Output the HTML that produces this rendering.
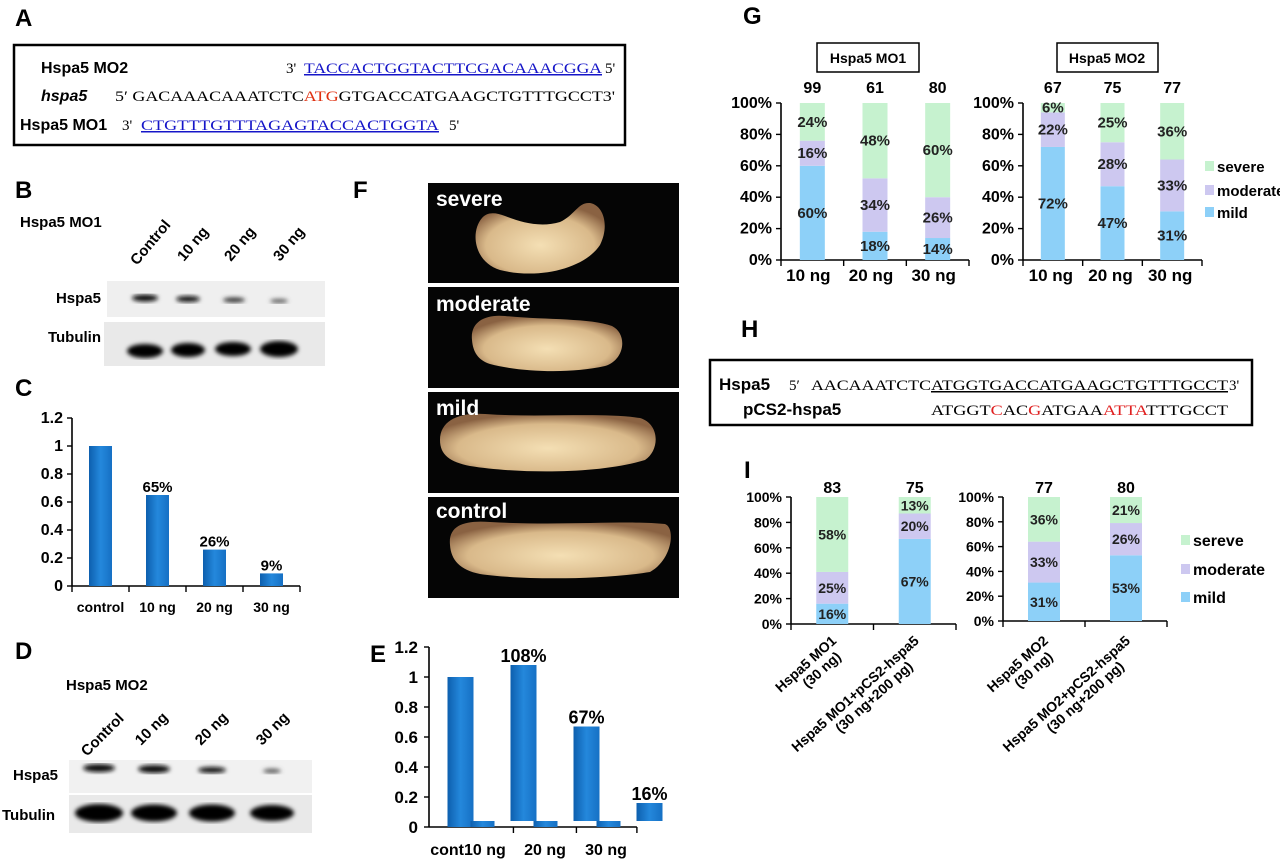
<!DOCTYPE html>
<html><head><meta charset="utf-8">
<style>
html,body{margin:0;padding:0;background:#fff;}
svg{display:block;font-family:"Liberation Sans",Arial,sans-serif;}
.b{font-weight:bold;}
.seq{font-family:"Liberation Serif",serif;font-size:15px;}
</style></head>
<body>
<svg id="fig" width="1280" height="860" viewBox="0 0 1280 860" xmlns="http://www.w3.org/2000/svg">
<defs>
<linearGradient id="barg" x1="0" x2="1" y1="0" y2="0"><stop offset="0" stop-color="#0d5fae"/><stop offset="0.5" stop-color="#2488dc"/><stop offset="1" stop-color="#1670c4"/></linearGradient>
<radialGradient id="emb" cx="0.5" cy="0.6" r="0.6"><stop offset="0" stop-color="#f4dfb4"/><stop offset="0.7" stop-color="#d9b98a"/><stop offset="1" stop-color="#8a6242"/></radialGradient>
<filter id="blur"><feGaussianBlur stdDeviation="2.2"/></filter>
</defs>

<g>
<text x="15" y="26" class="b" font-size="24">A</text>
<rect x="14" y="45" width="611" height="100" fill="none" stroke="#000" stroke-width="2.5"/>
<text x="41" y="73" class="b" font-size="16">Hspa5 MO2</text>
<text x="286" y="73" class="seq">3'</text>
<text x="304" y="73" class="seq" fill="#1515c8" text-decoration="underline" textLength="298" lengthAdjust="spacingAndGlyphs">TACCACTGGTACTTCGACAAACGGA</text>
<text x="605" y="73" class="seq">5'</text>
<text x="41" y="101" class="b" font-size="16" font-style="italic">hspa5</text>
<text x="115" y="101" class="seq" textLength="500" lengthAdjust="spacingAndGlyphs">5′ GACAAACAAATCTC<tspan fill="#e03010">ATG</tspan>GTGACCATGAAGCTGTTTGCCT3'</text>
<text x="20" y="130" class="b" font-size="16">Hspa5 MO1</text>
<text x="122" y="130" class="seq">3'</text>
<text x="141" y="130" class="seq" fill="#1515c8" text-decoration="underline" textLength="298" lengthAdjust="spacingAndGlyphs">CTGTTTGTTTAGAGTACCACTGGTA</text>
<text x="449" y="130" class="seq">5'</text>
</g>

<g>
<text x="15" y="198" class="b" font-size="24">B</text>
<text x="20" y="227" class="b" font-size="15">Hspa5 MO1</text>
<g class="b" font-size="15">
<text transform="translate(137,266) rotate(-50)">Control</text>
<text transform="translate(184,262) rotate(-50)">10 ng</text>
<text transform="translate(231,262) rotate(-50)">20 ng</text>
<text transform="translate(280,262) rotate(-50)">30 ng</text>
</g>
<rect x="107" y="281" width="218" height="36" fill="#efefef"/>
<g filter="url(#blur)" fill="#111">
<ellipse cx="145" cy="298" rx="13" ry="3.5"/><ellipse cx="188" cy="299" rx="12" ry="3"/><ellipse cx="234" cy="300" rx="11" ry="2.5" fill="#333"/><ellipse cx="279" cy="301" rx="9" ry="2" fill="#555"/>
</g>
<text x="101" y="303" text-anchor="end" class="b" font-size="15">Hspa5</text>
<rect x="104" y="322" width="221" height="44" fill="#e9e9e9"/>
<g filter="url(#blur)" fill="#050505">
<ellipse cx="145" cy="351" rx="18" ry="7"/><ellipse cx="188" cy="350" rx="17" ry="7"/><ellipse cx="233" cy="349" rx="18" ry="7"/><ellipse cx="279" cy="349" rx="19" ry="8"/>
</g>
<text x="101" y="342" text-anchor="end" class="b" font-size="15">Tubulin</text>
</g>

<g id="chartC">
<text x="15" y="396" class="b" font-size="24">C</text>
</g>

<g>
<text x="15" y="659" class="b" font-size="24">D</text>
<text x="66" y="690" class="b" font-size="15">Hspa5 MO2</text>
<g class="b" font-size="15">
<text transform="translate(87,757) rotate(-45)">Control</text>
<text transform="translate(141,746) rotate(-45)">10 ng</text>
<text transform="translate(201,746) rotate(-45)">20 ng</text>
<text transform="translate(262,746) rotate(-45)">30 ng</text>
</g>
<rect x="69" y="760" width="243" height="33" fill="#f1f1f1"/>
<g filter="url(#blur)" fill="#111">
<ellipse cx="99" cy="768" rx="16" ry="4"/><ellipse cx="154" cy="769" rx="16" ry="4"/><ellipse cx="212" cy="770" rx="14" ry="3"/><ellipse cx="272" cy="771" rx="9" ry="2.2" fill="#555"/>
</g>
<text x="13" y="780" class="b" font-size="15">Hspa5</text>
<rect x="69" y="795" width="243" height="38" fill="#e9e9e9"/>
<g filter="url(#blur)" fill="#050505">
<ellipse cx="99" cy="813" rx="24" ry="9"/><ellipse cx="154" cy="813" rx="23" ry="8.5"/><ellipse cx="212" cy="813" rx="23" ry="8.5"/><ellipse cx="272" cy="813" rx="22" ry="8"/>
</g>
<text x="2" y="820" class="b" font-size="15">Tubulin</text>
</g>

<g id="chartE">
<text x="370" y="662" class="b" font-size="24">E</text>
</g>

<g>
<text x="353" y="198" class="b" font-size="24">F</text>
<rect x="428" y="183" width="251" height="100" fill="#050505"/>
<path d="M482,218 C470,232 474,262 500,270 C540,280 585,268 600,245 C610,225 603,205 590,203 C578,202 575,215 560,222 C540,228 520,222 505,216 C495,212 487,212 482,218 Z" fill="url(#emb)"/>
<text x="436" y="206" class="b" font-size="21" fill="#fff">severe</text>
<rect x="428" y="287" width="251" height="101" fill="#050505"/>
<path d="M472,340 C470,322 485,314 505,316 C545,320 590,318 612,326 C628,334 625,360 605,366 C570,374 520,372 490,364 C478,360 473,352 472,340 Z" fill="url(#emb)"/>
<text x="436" y="311" class="b" font-size="21" fill="#fff">moderate</text>
<rect x="428" y="392" width="251" height="101" fill="#050505"/>
<path d="M440,440 C440,420 460,412 485,414 C540,418 600,412 640,418 C660,424 660,450 645,460 C600,474 520,474 470,466 C450,462 440,455 440,440 Z" fill="url(#emb)"/>
<text x="436" y="415" class="b" font-size="21" fill="#fff">mild</text>
<rect x="428" y="497" width="251" height="101" fill="#050505"/>
<path d="M450,545 C448,525 465,520 490,522 C560,526 630,520 665,524 C676,528 672,560 650,572 C600,580 520,580 480,574 C460,570 451,560 450,545 Z" fill="url(#emb)"/>
<text x="436" y="518" class="b" font-size="21" fill="#fff">control</text>
</g>

<g id="chartG">
<text x="743" y="24" class="b" font-size="24">G</text>
<rect x="817" y="43" width="102" height="29" fill="#fff" stroke="#000" stroke-width="1.5"/>
<text x="868" y="63" text-anchor="middle" class="b" font-size="14">Hspa5 MO1</text>
<rect x="1057" y="43" width="101" height="29" fill="#fff" stroke="#000" stroke-width="1.5"/>
<text x="1107" y="63" text-anchor="middle" class="b" font-size="14">Hspa5 MO2</text>
</g>

<g>
<text x="741" y="337" class="b" font-size="24">H</text>
<rect x="710" y="360" width="542" height="65" fill="none" stroke="#000" stroke-width="2.5"/>
<text x="719" y="390" class="b" font-size="17">Hspa5</text>
<text x="789" y="390" class="seq" font-size="16">5′</text>
<text x="811" y="390" class="seq" font-size="16" textLength="120" lengthAdjust="spacingAndGlyphs">AACAAATCTC</text>
<text x="931" y="390" class="seq" font-size="16" text-decoration="underline" textLength="297" lengthAdjust="spacingAndGlyphs">ATGGTGACCATGAAGCTGTTTGCCT</text>
<text x="1229" y="390" class="seq" font-size="16">3'</text>
<text x="743" y="415" class="b" font-size="17">pCS2-hspa5</text>
<text x="931" y="415" class="seq" font-size="16" textLength="297" lengthAdjust="spacingAndGlyphs">ATGGT<tspan fill="#e02020">C</tspan>AC<tspan fill="#e02020">G</tspan>ATGAA<tspan fill="#e02020">ATTA</tspan>TTTGCCT</text>
</g>

<g id="chartI">
<text x="744" y="478" class="b" font-size="24">I</text>
</g>
</svg>

<script>
// ---- Panel C data ----
const cCats = ["control","10 ng","20 ng","30 ng"];
const cVals = [1.0, 0.65, 0.26, 0.09];
const cLabels = ["", "65%", "26%", "9%"];
const cTicks = [0, 0.2, 0.4, 0.6, 0.8, 1, 1.2];

// ---- Panel E data ----
const eCats = ["cont", "10 ng", "20 ng", "30 ng"];
const eVals = [1.0, 1.08, 0.67, 0.16];
const eBase = [0, 0.04, 0.04, 0.04];
const eSmall = [0.04, 0.04, 0.04];
const eLabels = ["", "108%", "67%", "16%"];
const eTicks = [0, 0.2, 0.4, 0.6, 0.8, 1, 1.2];

// ---- Panel G data ----
const gCats = ["10 ng","20 ng","30 ng"];
const g1Mild = [60, 18, 14];
const g1Mod = [16, 34, 26];
const g1Sev = [24, 48, 60];
const g1N = [99, 61, 80];
const g2Mild = [72, 47, 31];
const g2Mod = [22, 28, 33];
const g2Sev = [6, 25, 36];
const g2N = [67, 75, 77];
const pctTicks = [0, 20, 40, 60, 80, 100];

// ---- Panel I data ----
const i1Cats = [["Hspa5 MO1","(30 ng)"],["Hspa5 MO1+pCS2-hspa5","(30 ng+200 pg)"]];
const i1Mild = [16, 67];
const i1Mod = [25, 20];
const i1Sev = [58, 13];
const i1N = [83, 75];
const i2Cats = [["Hspa5 MO2","(30 ng)"],["Hspa5 MO2+pCS2-hspa5","(30 ng+200 pg)"]];
const i2Mild = [31, 53];
const i2Mod = [33, 26];
const i2Sev = [36, 21];
const i2N = [77, 80];

const NS = "http://www.w3.org/2000/svg";
const COL = {mild:"#8dd0f8", mod:"#cdc8f0", sev:"#c6f2cf"};
function mk(parent, tag, attrs, txt){
  const e = document.createElementNS(NS, tag);
  for (const k in attrs) e.setAttribute(k, attrs[k]);
  if (txt !== undefined) e.textContent = txt;
  parent.appendChild(e);
  return e;
}
function axes(g, x0, x1, y0, y1, vmax, ticks, fmt, nCats, fs){
  const ys = v => y0 - (v / vmax) * (y0 - y1);
  const yl = mk(g, "line", {x1:x0, y1:y1, x2:x0, y2:y0, stroke:"#000", "stroke-width":1.6});
  
  
  const xl = mk(g, "line", {x1:x0, y1:y0, x2:x1, y2:y0, stroke:"#000", "stroke-width":1.6});
  
  
  ticks.forEach(t => {
    const y = ys(t);
    mk(g, "line", {x1:x0-5, y1:y, x2:x0, y2:y, stroke:"#000", "stroke-width":1.4});
    const tl = mk(g, "text", {x:x0-9, y:y+5, "text-anchor":"end", "font-weight":"bold", "font-size":fs}, fmt(t));
    
    
  });
  const bw = (x1 - x0) / nCats;
  for (let i = 0; i <= nCats; i++) {
    mk(g, "line", {x1:x0+bw*i, y1:y0, x2:x0+bw*i, y2:y0+6, stroke:"#000", "stroke-width":1.4});
  }
  return {ys, bw};
}
(function(){
  const g = document.getElementById("chartC");
  const x0=72, x1=300, y0=586, y1=418;
  const a = axes(g, x0, x1, y0, y1, 1.2, cTicks, t => String(t), cCats.length, 16);
  cVals.forEach((v, i) => {
    const cx = x0 + a.bw*(i+0.5);
    const r = mk(g, "rect", {x:cx-11.5, y:a.ys(v), width:23, height:y0-a.ys(v), fill:"url(#barg)"});
    
    
    if (cLabels[i]) {
      const t = mk(g, "text", {x:cx, y:a.ys(v)-3, "text-anchor":"middle", "font-weight":"bold", "font-size":15}, cLabels[i]);
      
      
    }
    const xl = mk(g, "text", {x:cx, y:612, "text-anchor":"middle", "font-weight":"bold", "font-size":14}, cCats[i]);
    
    
  });
})();
(function(){
  const g = document.getElementById("chartE");
  const x0=429, y0=827, y1=647;
  const ys = v => y0 - (v/1.2)*(y0-y1);
  const bw = 63;
  const yl = mk(g, "line", {x1:x0, y1:y1, x2:x0, y2:y0, stroke:"#000", "stroke-width":1.6});
  
  
  const xl = mk(g, "line", {x1:x0, y1:y0, x2:x0+bw*3.3, y2:y0, stroke:"#000", "stroke-width":1.6});
  
  
  eTicks.forEach(t => {
    mk(g, "line", {x1:x0-5, y1:ys(t), x2:x0, y2:ys(t), stroke:"#000", "stroke-width":1.4});
    const tl = mk(g, "text", {x:x0-11, y:ys(t)+6, "text-anchor":"end", "font-weight":"bold", "font-size":17}, String(t));
    
    
  });
  [1.34, 2.34, 3.3].forEach(k => mk(g, "line", {x1:x0+bw*k, y1:y0, x2:x0+bw*k, y2:y0+6, stroke:"#000", "stroke-width":1.4}));
  eVals.forEach((v, i) => {
    const cx = x0 + bw*(i+0.5);
    const r = mk(g, "rect", {x:cx-13, y:ys(v), width:26, height:ys(eBase[i])-ys(v), fill:"url(#barg)"});
    
    
    if (eLabels[i]) {
      const t = mk(g, "text", {x:cx, y:ys(v)-3, "text-anchor":"middle", "font-weight":"bold", "font-size":18}, eLabels[i]);
      
      
    }
  });
  eSmall.forEach((v, i) => {
    const cx = x0 + bw*(i+0.5) + 22;
    const r = mk(g, "rect", {x:cx-12, y:ys(v), width:24, height:y0-ys(v), fill:"url(#barg)"});
    
    
  });
  const lx = [468, 545, 606];
  const lt = ["cont10 ng", "20 ng", "30 ng"];
  lt.forEach((s, i) => {
    const t = mk(g, "text", {x:lx[i], y:855, "text-anchor":"middle", "font-weight":"bold", "font-size":16}, s);
    
    
  });
})();
function stacked(g, x0, x1, y0, y1, cats, mild, mod, sev, ns, barW, fs, nY, sfs){
  const a = axes(g, x0, x1, y0, y1, 100, pctTicks, t => t + "%", cats.length, fs);
  cats.forEach((c, i) => {
    const cx = x0 + a.bw*(i+0.5);
    let acc = 0;
    [[mild[i], COL.mild, "mild"], [mod[i], COL.mod, "moderate"], [sev[i], COL.sev, "severe"]].forEach(([v, col, nm]) => {
      let top = acc + v;
      if (nm === "severe") top = 100;
      const r = mk(g, "rect", {x:cx-barW/2, y:a.ys(top), width:barW, height:a.ys(acc)-a.ys(top), fill:col});
      
      
      const t = mk(g, "text", {x:cx, y:(a.ys(acc)+a.ys(top))/2+5, "text-anchor":"middle", "font-weight":"bold", "font-size":sfs, fill:"#222"}, v + "%");
      
      
      acc = top;
    });
    const n = mk(g, "text", {x:cx, y:nY, "text-anchor":"middle", "font-weight":"bold", "font-size":16}, String(ns[i]));
    
    
  });
  return a;
}
function legend(g, x, ys, labels, fs){
  const cols = [COL.sev, COL.mod, COL.mild];
  labels.forEach((l, i) => {
    const r = mk(g, "rect", {x:x, y:ys[i]-11, width:9, height:10, fill:cols[i]});
    
    
    const t = mk(g, "text", {x:x+12, y:ys[i], "font-weight":"bold", "font-size":fs}, l);
    
    
  });
}
(function(){
  const g = document.getElementById("chartG");
  const a1 = stacked(g, 781, 969, 260, 103, gCats, g1Mild, g1Mod, g1Sev, g1N, 25, 16, 93, 15);
  gCats.forEach((c, i) => {
    const t = mk(g, "text", {x:781 + a1.bw*(i+0.5) - 4, y:281, "text-anchor":"middle", "font-weight":"bold", "font-size":17}, c);
    
    
  });
  const a2 = stacked(g, 1023, 1202, 260, 103, gCats, g2Mild, g2Mod, g2Sev, g2N, 24, 16, 93, 15);
  gCats.forEach((c, i) => {
    const t = mk(g, "text", {x:1023 + a2.bw*(i+0.5) - 2, y:281, "text-anchor":"middle", "font-weight":"bold", "font-size":17}, c);
    
    
  });
  legend(g, 1205, [172, 196, 218], ["severe", "moderate", "mild"], 15);
})();
(function(){
  const g = document.getElementById("chartI");
  function rot(a, x0, cats){
    cats.forEach((c, i) => {
      const cx = x0 + a.bw*(i+0.5);
      const t = mk(g, "text", {transform:"translate(" + (cx+5) + ",642) rotate(-42)", "text-anchor":"end", "font-weight":"bold", "font-size":14});
      
      
      const w0 = c[0].length, w1 = c[1].length;
      const shift = Math.max(0, (w0 - w1) * 3.6);
      mk(t, "tspan", {x:0, dy:0}, c[0]);
      mk(t, "tspan", {x:-shift, dy:15}, c[1]);
    });
  }
  const a1 = stacked(g, 791, 956, 624, 497, i1Cats, i1Mild, i1Mod, i1Sev, i1N, 32, 14, 493, 14);
  rot(a1, 791, i1Cats);
  const a2 = stacked(g, 1003, 1167, 621, 497, i2Cats, i2Mild, i2Mod, i2Sev, i2N, 32, 14, 493, 14);
  rot(a2, 1003, i2Cats);
  legend(g, 1181, [546, 575, 603], ["sereve", "moderate", "mild"], 16);
})();
</script>
</body></html>
